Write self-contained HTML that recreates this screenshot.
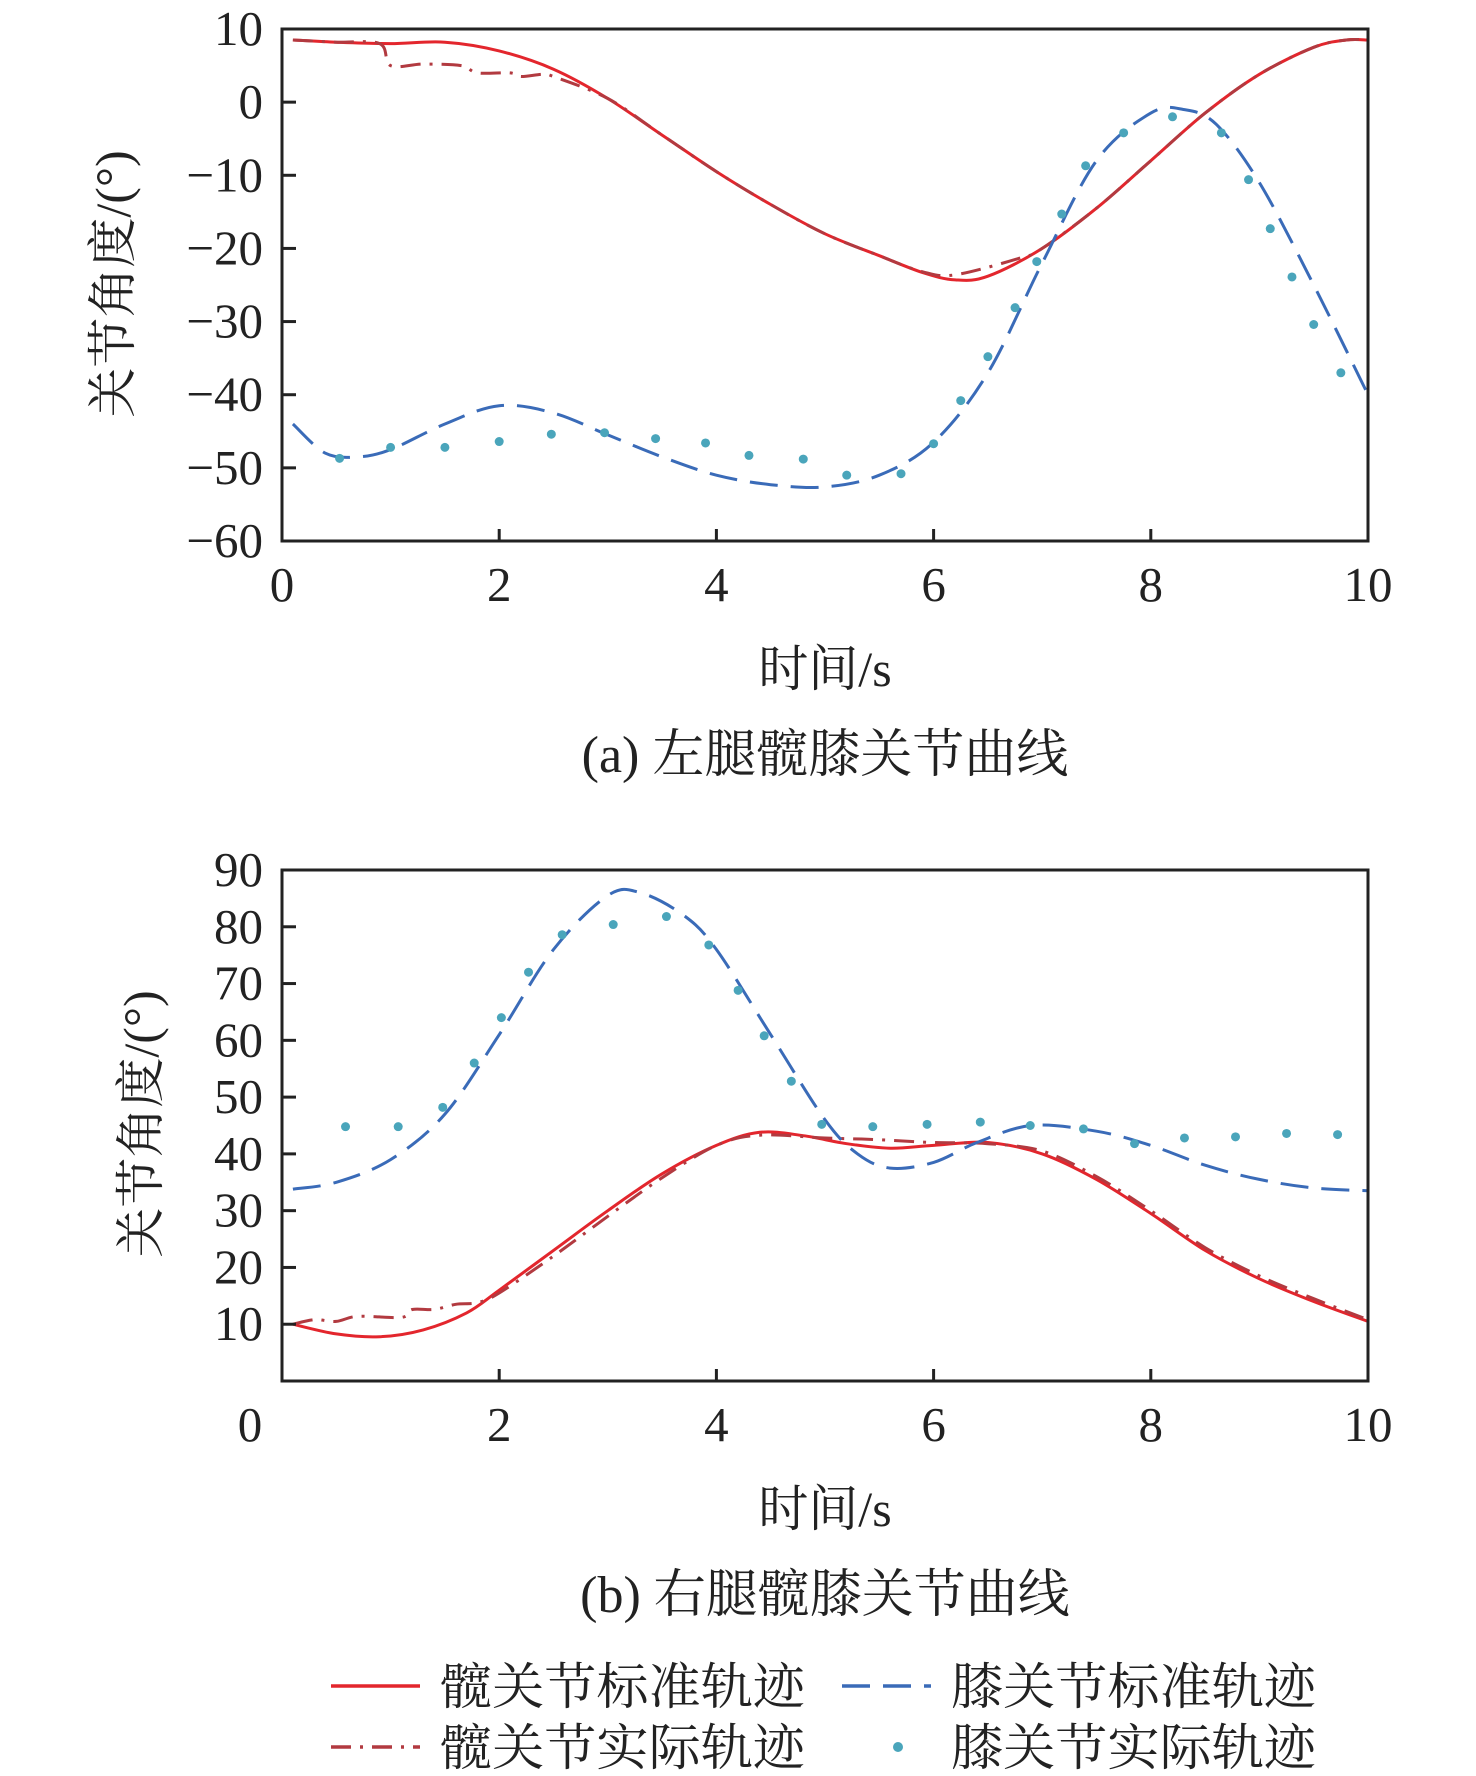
<!DOCTYPE html>
<html><head><meta charset="utf-8"><style>
html,body{margin:0;padding:0;background:#fff;}
svg{display:block;}
text{font-family:"Liberation Serif","Noto Serif CJK SC",serif;fill:#222;}
</style></head><body>
<svg id="chart" width="1476" height="1776" viewBox="0 0 1476 1776" xmlns="http://www.w3.org/2000/svg"></svg>
<script>
// ---------- Data (a) left leg ----------
const hipStdA_t = [0.1,0.5,1,1.5,2,2.5,3,3.5,4,4.5,5,5.5,5.9,6.2,6.5,7,7.5,8,8.5,9,9.5,9.8,10];
const hipStdA_v = [8.5,8.2,8,8.2,7,4.5,0.5,-4.5,-9.5,-14,-18,-21,-23.3,-24.3,-23.8,-20,-14.5,-8,-1.5,3.8,7.5,8.5,8.5];
const hipActA_t = [0.1,0.5,0.9,1.0,1.3,1.65,1.8,2.1,2.2,2.4,2.5,3,3.5,4,4.5,5,5.5,5.9,6.2,6.8,7,7.5,8,8.5,9,9.5,9.8,10];
const hipActA_v = [8.5,8.2,8,5,5.2,5,4,4,3.5,3.8,3.5,0.5,-4.5,-9.5,-14,-18,-21,-23.2,-23.6,-21.3,-20,-14.5,-8,-1.5,3.8,7.5,8.5,8.5];
const kneeStdA_t = [0.1,0.4,0.7,1,1.5,2,2.5,3,3.5,4,4.5,5,5.5,6,6.5,7,7.5,8,8.3,8.6,9,9.5,10];
const kneeStdA_v = [-44,-48,-48.5,-47.5,-44,-41.5,-42.5,-45.5,-48.5,-51,-52.3,-52.6,-51,-46.5,-37,-22,-8,-1.5,-1,-3,-11,-25,-40];
const kneeActA_t = [0.53,1.0,1.5,2.0,2.48,2.97,3.44,3.9,4.3,4.8,5.2,5.7,6.0,6.25,6.5,6.75,6.95,7.18,7.4,7.75,8.2,8.65,8.9,9.1,9.3,9.5,9.75];
const kneeActA_v = [-48.7,-47.2,-47.2,-46.4,-45.4,-45.2,-46,-46.6,-48.3,-48.8,-51,-50.8,-46.7,-40.8,-34.8,-28.1,-21.8,-15.3,-8.7,-4.2,-2,-4.2,-10.6,-17.3,-23.9,-30.4,-37];
const yTicksA = [10,0,-10,-20,-30,-40,-50,-60];
const xTicks = [0,2,4,6,8,10];
// ---------- Data (b) right leg ----------
const hipStdB_t = [0.1,0.5,0.9,1.3,1.7,2,2.5,3,3.5,4,4.4,4.8,5.2,5.6,6,6.5,7,7.5,8,8.5,9,9.5,10];
const hipStdB_v = [10,8.3,7.8,9,12,16,23,30,36.5,41.5,43.8,43.2,41.8,41,41.5,42,40,35.5,29.5,23,18,14,10.5];
const hipActB_t = [0.1,0.3,0.5,0.7,1.1,1.2,1.4,1.6,1.8,2,2.5,3,3.5,4,4.4,5,5.5,6,6.5,7,7.5,8,8.5,9,9.5,10];
const hipActB_v = [10,10.8,10.5,11.4,11.2,12.6,12.6,13.5,13.8,15.5,22,29,35.8,41.5,43.3,42.8,42.5,42,41.8,40.5,36,30,23.5,18.5,14.5,10.8];
const kneeStdB_t = [0.1,0.5,1,1.5,2,2.5,3,3.3,3.7,4,4.5,5,5.3,5.6,6,6.4,6.9,7.5,8,8.5,9,9.5,10];
const kneeStdB_v = [33.8,35,39,47,61,76,85.5,86,82,76,61,46,40,37.5,38.5,42,45,44,41.5,38,35.5,34,33.5];
const kneeActB_t = [0.585,1.07,1.48,1.77,2.02,2.27,2.58,3.05,3.54,3.93,4.2,4.44,4.69,4.97,5.44,5.94,6.43,6.89,7.38,7.85,8.31,8.78,9.25,9.72];
const kneeActB_v = [44.8,44.8,48.2,56,64,72,78.6,80.4,81.8,76.8,68.8,60.8,52.8,45.2,44.8,45.2,45.6,45,44.4,41.8,42.8,43,43.6,43.4];
const yTicksB = [90,80,70,60,50,40,30,20,10];

const NS="http://www.w3.org/2000/svg";
const svg=document.getElementById('chart');
function el(tag,attrs,parent){const e=document.createElementNS(NS,tag);for(const k in attrs)e.setAttribute(k,attrs[k]);(parent||svg).appendChild(e);return e;}
function smoothPath(pts){
  let d=`M${pts[0][0].toFixed(1)},${pts[0][1].toFixed(1)}`;
  for(let i=0;i<pts.length-1;i++){
    const p0=pts[Math.max(i-1,0)],p1=pts[i],p2=pts[i+1],p3=pts[Math.min(i+2,pts.length-1)];
    const c1=[p1[0]+(p2[0]-p0[0])/6,p1[1]+(p2[1]-p0[1])/6];
    const c2=[p2[0]-(p3[0]-p1[0])/6,p2[1]-(p3[1]-p1[1])/6];
    d+=` C${c1[0].toFixed(1)},${c1[1].toFixed(1)} ${c2[0].toFixed(1)},${c2[1].toFixed(1)} ${p2[0].toFixed(1)},${p2[1].toFixed(1)}`;
  }
  return d;
}
const X0=282,X1=1368;
function xs(t){return X0+(t/10)*(X1-X0);}

function panel(cfg){
  const g=el('g',{});
  
  
  const ys=v=>cfg.top+(cfg.ymax-v)/(cfg.ymax-cfg.ymin)*(cfg.bottom-cfg.top);
  const series=[
    [cfg.hipStd_t,cfg.hipStd_v,'#e3262d','none','hip-standard-line'],
    [cfg.hipAct_t,cfg.hipAct_v,'#b23a40','20,9,3,9','hip-actual-line'],
    [cfg.kneeStd_t,cfg.kneeStd_v,'#3a6bb8','28,13','knee-standard-line']
  ];
  series.forEach(s=>{
    const pts=s[0].map((t,i)=>[xs(t),ys(s[1][i])]);
    const p=el('path',{d:smoothPath(pts),fill:'none',stroke:s[2],'stroke-width':3,'stroke-dasharray':s[3]},g);
    
    
  });
  cfg.kneeAct_t.forEach((t,i)=>{
    const c=el('circle',{cx:xs(t),cy:ys(cfg.kneeAct_v[i]),r:4.5,fill:'#4aa5bb'},g);
    
    
  });
  const f=el('rect',{x:X0,y:cfg.top,width:X1-X0,height:cfg.bottom-cfg.top,fill:'none',stroke:'#222','stroke-width':3},g);
  
  
  cfg.yTicks.forEach(v=>{
    const y=ys(v);
    const tk=el('line',{x1:X0,x2:X0+14,y1:y,y2:y,stroke:'#222','stroke-width':3},g);
    
    
    const lb=el('text',{x:263,y:y+16,'text-anchor':'end','font-size':49},g);
    lb.textContent=(v<0?'\u2212':'')+Math.abs(v);
    
    
  });
  xTicks.forEach(t=>{
    const x=xs(t);
    if(t>0&&t<10){const tk=el('line',{x1:x,x2:x,y1:cfg.bottom,y2:cfg.bottom-12,stroke:'#222','stroke-width':3},g);
      
      }
    const lb=el('text',{x:(t===0&&cfg.zeroLeft)?250:x,y:cfg.bottom+60,'text-anchor':'middle','font-size':49},g);
    lb.textContent=String(t);
    
    
  });
  const xt=el('text',{x:825,y:cfg.bottom+145,'text-anchor':'middle','font-size':50},g);
  xt.textContent='时间/s';
  
  
  const yt=el('text',{x:0,y:0,'text-anchor':'middle','font-size':50,transform:`translate(${cfg.ytx},${cfg.yty}) rotate(-90)`},g);
  yt.textContent='关节角度/(°)';
  
  
  const cap=el('text',{x:825,y:cfg.bottom+231,'text-anchor':'middle','font-size':52},g);
  cap.textContent=cfg.caption;
  
  
}

panel({name:'left-leg-panel',top:29,bottom:541,ymin:-60,ymax:10,yTicks:yTicksA,
  hipStd_t:hipStdA_t,hipStd_v:hipStdA_v,hipAct_t:hipActA_t,hipAct_v:hipActA_v,
  kneeStd_t:kneeStdA_t,kneeStd_v:kneeStdA_v,kneeAct_t:kneeActA_t,kneeAct_v:kneeActA_v,
  ytx:130,yty:284,caption:'(a) 左腿髋膝关节曲线',zeroLeft:false});
panel({name:'right-leg-panel',top:870,bottom:1381,ymin:0,ymax:90,yTicks:yTicksB,
  hipStd_t:hipStdB_t,hipStd_v:hipStdB_v,hipAct_t:hipActB_t,hipAct_v:hipActB_v,
  kneeStd_t:kneeStdB_t,kneeStd_v:kneeStdB_v,kneeAct_t:kneeActB_t,kneeAct_v:kneeActB_v,
  ytx:158,yty:1124,caption:'(b) 右腿髋膝关节曲线',zeroLeft:true});

const lg=el('g',{});


const entries=[
  [331,1686,'#e3262d','none','髋关节标准轨迹','line'],
  [331,1747,'#b23a40','20,9,3,9','髋关节实际轨迹','line'],
  [842,1686,'#3a6bb8','28,13','膝关节标准轨迹','line'],
  [842,1747,'#4aa5bb','','膝关节实际轨迹','dot']
];
entries.forEach(e=>{
  const g=el('g',{},lg);
  
  
  if(e[5]==='line'){el('line',{x1:e[0],x2:e[0]+89,y1:e[1],y2:e[1],stroke:e[2],'stroke-width':3.5,'stroke-dasharray':e[3]},g);}
  else{el('circle',{cx:e[0]+56,cy:e[1],r:5,fill:e[2]},g);}
  const t=el('text',{x:e[0]+109,y:e[1]+18,'font-size':50,textLength:365,lengthAdjust:'spacingAndGlyphs'},g);
  t.textContent=e[4];
});
</script>
</body></html>
